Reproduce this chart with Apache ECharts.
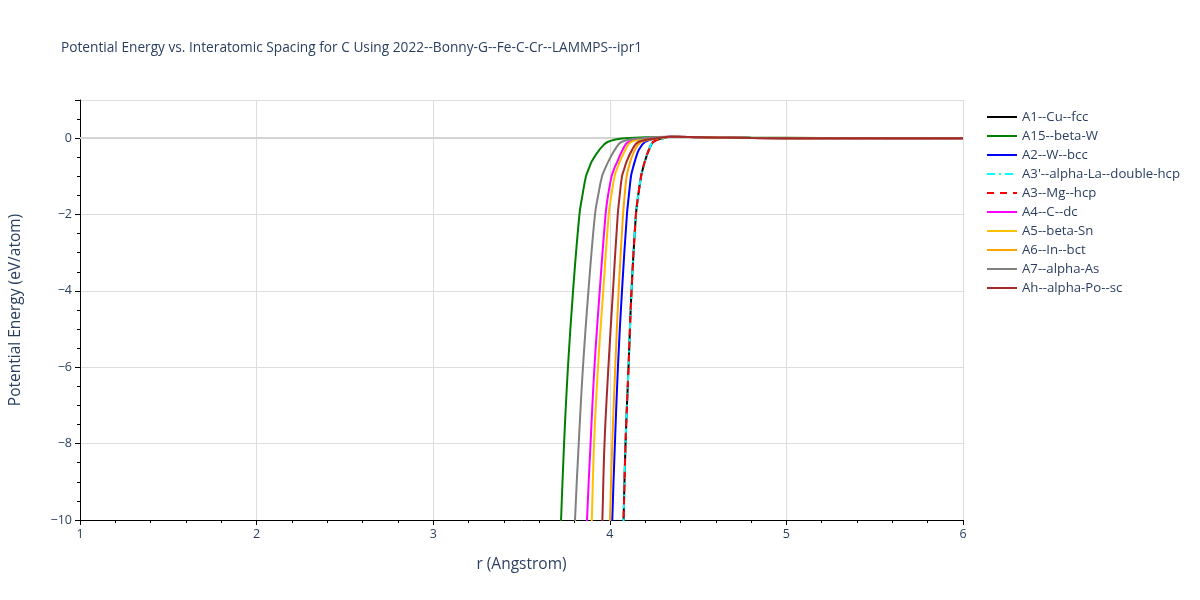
<!DOCTYPE html>
<html>
<head>
<meta charset="utf-8">
<script src="https://cdn.jsdelivr.net/npm/echarts@6/dist/echarts.min.js"></script>
<style>html,body{margin:0;padding:0;background:#fff}#c{width:1200px;height:600px}</style>
</head>
<body>
<div id="c"></div>
<script>
const seriesNames = ["A1--Cu--fcc","A15--beta-W","A2--W--bcc","A3'--alpha-La--double-hcp","A3--Mg--hcp","A4--C--dc","A5--beta-Sn","A6--In--bct","A7--alpha-As","Ah--alpha-Po--sc"];
const seriesColors = ["#000000","#008000","#0000ff","#00ffff","#ff0000","#ff00ff","#ffc000","#ffa500","#808080","#a52a2a"];

// energy levels (eV/atom) at which radii were read
const eLevels = [-13, -10, -8, -6, -4, -2, -1.5, -1, -0.8, -0.6, -0.3, -0.1, 0];
// radii (Angstrom) read at those energy levels
const rA1   = [4.061, 4.078, 4.089, 4.106, 4.123, 4.148, 4.161, 4.177, 4.187, 4.199, 4.222, 4.246, 4.301];
const rA15  = [3.698, 3.724, 3.741, 3.763, 3.792, 3.828, 3.845, 3.865, 3.881, 3.899, 3.942, 3.987, 4.086];
const rA2   = [3.998, 4.014, 4.029, 4.046, 4.069, 4.097, 4.108, 4.120, 4.130, 4.142, 4.165, 4.199, 4.267];
const rA3p  = [4.061, 4.078, 4.089, 4.106, 4.123, 4.148, 4.161, 4.177, 4.187, 4.199, 4.222, 4.246, 4.301];
const rA3   = [4.061, 4.078, 4.089, 4.106, 4.123, 4.148, 4.161, 4.177, 4.187, 4.199, 4.222, 4.246, 4.301];
const rA4   = [3.848, 3.871, 3.891, 3.913, 3.943, 3.976, 3.990, 4.010, 4.025, 4.044, 4.073, 4.105, 4.228];
const rA5   = [3.877, 3.898, 3.911, 3.933, 3.963, 3.994, 4.009, 4.027, 4.041, 4.058, 4.089, 4.120, 4.239];
const rA6   = [3.984, 4.001, 4.014, 4.031, 4.050, 4.075, 4.084, 4.095, 4.105, 4.117, 4.143, 4.177, 4.284];
const rA7   = [3.778, 3.803, 3.824, 3.848, 3.879, 3.916, 3.934, 3.956, 3.973, 3.993, 4.029, 4.066, 4.182];
const rAh   = [3.939, 3.958, 3.970, 3.992, 4.018, 4.045, 4.056, 4.069, 4.082, 4.096, 4.127, 4.161, 4.273];

// tail beyond the zero crossing (r, E)
const tailR = [4.35, 4.45, 4.6, 4.8, 5.2, 6.0];
const tailE = [0.035, 0.03, 0.015, 0.005, 0.0, 0.0];
const tailA15E = [0.03, 0.03, 0.025, 0.015, 0.005, 0.0];

const xTicks = [1, 2, 3, 4, 5, 6];
const yTicks = [-10, -8, -6, -4, -2, 0];

const radii = [rA1, rA15, rA2, rA3p, rA3, rA4, rA5, rA6, rA7, rAh];

function buildData(rs, idx) {
  const d = rs.map((r, i) => [r, eLevels[i]]);
  const te = idx === 1 ? tailA15E : tailE;
  const last = rs[rs.length - 1];
  tailR.forEach((r, i) => { if (r > last + 0.03) d.push([r, te[i]]); });
  return d;
}

const lineStyles = [
  {type: 'solid'}, {type: 'solid'}, {type: 'solid'},
  {type: [8, 4, 2, 4]}, {type: [7, 6]},
  {type: 'solid'}, {type: 'solid'}, {type: 'solid'}, {type: 'solid'}, {type: 'solid'}
];

const series = seriesNames.map((n, i) => ({
  name: n,
  type: 'line',
  data: buildData(radii[i], i),
  smooth: 0.4,
  showSymbol: false,
  symbol: 'none',
  clip: true,
  color: seriesColors[i],
  lineStyle: Object.assign({width: 2, color: seriesColors[i]}, lineStyles[i]),
  z: 3 + i,
  markLine: i === 0 ? {
    silent: true, symbol: 'none', label: {show: false},
    lineStyle: {color: '#d4d4d4', width: 2, type: 'solid'},
    data: [{yAxis: 0}], z: 1
  } : undefined
}));

const chart = echarts.init(document.getElementById('c'), null, {renderer: 'canvas'});
chart.setOption({
  animation: false,
  backgroundColor: '#ffffff',
  textStyle: {fontFamily: 'Open Sans, Verdana, Arial, sans-serif'},
  title: {
    text: 'Potential Energy vs. Interatomic Spacing for C Using 2022--Bonny-G--Fe-C-Cr--LAMMPS--ipr1',
    left: 56, top: 36,
    textStyle: {fontSize: 13.7, fontWeight: 'normal', color: '#2a3f5f'}
  },
  legend: {
    orient: 'vertical',
    left: 981, top: 105,
    itemWidth: 30, itemHeight: 14, itemGap: 5,
    itemStyle: {opacity: 0, borderWidth: 0},
    textStyle: {fontSize: 13.2, lineHeight: 14, color: '#2a3f5f'},
    data: seriesNames
  },
  grid: {left: 80, right: 237, top: 100, bottom: 80, containLabel: false},
  xAxis: {
    type: 'value', min: 1, max: 6, interval: 1,
    name: 'r (Angstrom)', nameLocation: 'middle', nameGap: 37,
    nameTextStyle: {fontSize: 15.5, color: '#2a3f5f'},
    axisLine: {show: true, onZero: false, lineStyle: {color: '#000', width: 1}},
    axisTick: {show: true, length: 5, lineStyle: {color: '#000'}},
    minorTick: {show: true, splitNumber: 5, length: 3, lineStyle: {color: '#000'}},
    axisLabel: {fontSize: 12.5, color: '#2a3f5f', margin: 8},
    splitLine: {show: true, lineStyle: {color: '#dddddd', width: 1}}
  },
  yAxis: {
    type: 'value', min: -10, max: 1, interval: 2,
    name: 'Potential Energy (eV/atom)', nameLocation: 'middle', nameGap: 56,
    nameTextStyle: {fontSize: 15.5, color: '#2a3f5f'},
    axisLine: {show: true, onZero: false, lineStyle: {color: '#000', width: 1}},
    axisTick: {show: true, length: 5, lineStyle: {color: '#000'}},
    minorTick: {show: true, splitNumber: 4, length: 3, lineStyle: {color: '#000'}},
    axisLabel: {fontSize: 12.5, color: '#2a3f5f', margin: 8, showMaxLabel: false,
      formatter: v => (yTicks.indexOf(v) >= 0 ? (v < 0 ? '\u2212' + Math.abs(v) : String(v)) : '')},
    splitLine: {show: true, lineStyle: {color: '#dddddd', width: 1}}
  },
  series: series
});
</script>
</body>
</html>
